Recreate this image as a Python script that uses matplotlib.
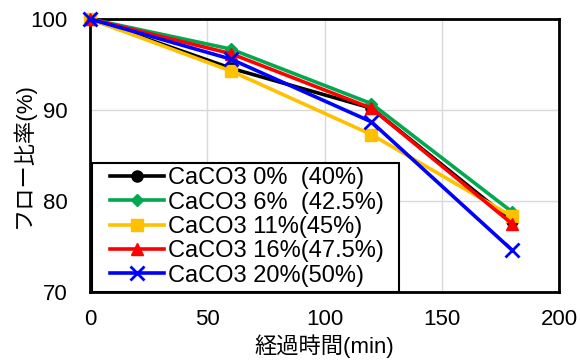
import matplotlib
matplotlib.use("Agg")
import matplotlib.pyplot as plt
from matplotlib.patches import Rectangle

plt.rcParams['font.family'] = ['Liberation Sans', 'Noto Sans CJK JP', 'DejaVu Sans']

times = [0, 60, 120, 180]
labels = [
    "CaCO3 0%  (40%)",
    "CaCO3 6%  (42.5%)",
    "CaCO3 11%(45%)",
    "CaCO3 16%(47.5%)",
    "CaCO3 20%(50%)",
]
flow_0 = [100, 94.6, 90.2, 77.8]
flow_6 = [100, 96.7, 90.7, 78.8]
flow_11 = [100, 94.3, 87.3, 78.3]
flow_16 = [100, 96.2, 90.2, 77.5]
flow_20 = [100, 95.6, 88.7, 74.6]

series = [flow_0, flow_6, flow_11, flow_16, flow_20]
colors = ["#000000", "#00A84F", "#FFC000", "#FF0000", "#0000FF"]
markers = ["o", "D", "s", "^", "x"]
sizes = [8, 6, 9, 9, 10]

W, H = 580, 362
fig = plt.figure(figsize=(W / 100, H / 100), dpi=100)
ax = fig.add_axes([90/W, 1 - 292/H, (559-90)/W, (292-19)/H])

for ys, c, m, s, lab in zip(series, colors, markers, sizes, labels):
    ax.plot(times, ys, color=c, marker=m, markersize=s, linewidth=2.6,
            markeredgewidth=2 if m == "x" else 1, label=lab, clip_on=False, zorder=3)

ax.set_xlim(0, 200)
ax.set_ylim(70, 100)
ax.set_xticks([0, 50, 100, 150, 200])
ax.set_yticks([70, 80, 90, 100])
ax.grid(True, color="#d9d9d9", linewidth=1)
ax.set_axisbelow(True)
for sp in ax.spines.values():
    sp.set_linewidth(2)
    sp.set_color("black")
ax.tick_params(axis="x", length=0, labelsize=16, pad=12)
ax.tick_params(axis="y", length=0, labelsize=16, pad=16)

ax.set_xlabel("経過時間(min)", fontsize=16, labelpad=3)
ax.set_ylabel("フロー比率(%)", fontsize=16, labelpad=-3)

# legend box drawn separately so the handles can sit with a wider left margin
box = Rectangle((92/W, 1 - 292/H), (399-92)/W, (292-163)/H, transform=fig.transFigure,
                facecolor="white", edgecolor="black", linewidth=1.5, zorder=4)
fig.add_artist(box)

leg = fig.legend(*ax.get_legend_handles_labels(), loc="center left",
                 bbox_to_anchor=(110/W, 1 - 227/H), fontsize=17, frameon=False,
                 handlelength=2.3, handletextpad=0.15, labelspacing=0.1,
                 borderpad=0, borderaxespad=0)
leg.set_zorder(5)

fig.savefig("out.png", dpi=100)
